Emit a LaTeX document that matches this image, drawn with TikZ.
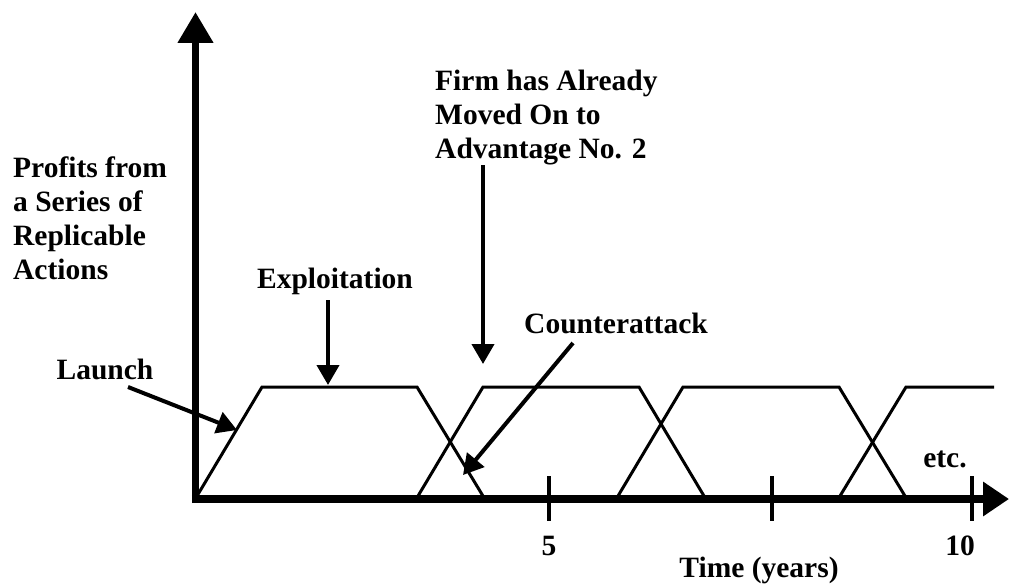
\documentclass[tikz,border=0pt]{standalone}
\usepackage{fontspec}
\setmainfont{Liberation Serif}
\usetikzlibrary{arrows.meta}
\begin{document}
\begin{tikzpicture}[x=1pt,y=-1pt,
  lbl/.style={font=\fontsize{29.5}{34}\selectfont\bfseries, inner sep=0pt},
  mlbl/.style={lbl, align=left, anchor=north west},
  axis/.style={line width=7.5pt},
  trap/.style={line width=3pt, line join=miter},
  tick/.style={line width=4pt},
  callout/.style={line width=4pt, -{Triangle[length=20pt,width=22pt]}}]
\useasboundingbox (0,0) rectangle (1009,586);
% trapezoids
\draw[trap] (197,496) -- (262,387) -- (417,387) -- (483,496);
\draw[trap] (418,496) -- (483,387) -- (639,387) -- (704,496);
\draw[trap] (618,496) -- (683,387) -- (839,387) -- (905,496);
\draw[trap] (840,496) -- (906,387) -- (994,387);
% axes
\coordinate (origin) at (195.5,503);
\coordinate (ytop) at (195.5,12);
\coordinate (xstart) at (191.75,499);
\coordinate (xend) at (1009,499);
\draw[axis, -{Triangle[length=31pt,width=34pt]}] (origin) -- (ytop);
\draw[line width=8pt, -{Triangle[length=26pt,width=33pt]}] (xstart) -- (xend);
% ticks
\foreach \x/\n in {549/t5, 772/t7, 972/t10} {
  \coordinate (\n a) at (\x,476);
  \coordinate (\n b) at (\x,521);
  \draw[tick] (\n a) -- (\n b);
}
% labels
\node[mlbl] (profits) at (13,157) {Profits from\\a Series of\\Replicable\\Actions};
\node[mlbl] (firm) at (435,70) {Firm has Already\\Moved On to\\Advantage No. 2};
\node[lbl, anchor=base] (expl) at (335,288) {Exploitation};
\node[lbl, anchor=base] (launch) at (105,379) {Launch};
\node[lbl, anchor=base] (counter) at (616,333) {Counterattack};
\node[lbl, anchor=base] (etc) at (945,467) {etc.};
\node[lbl, anchor=base] (five) at (549,555) {5};
\node[lbl, anchor=base] (ten) at (960,555) {10};
\node[lbl, anchor=base] (time) at (759,577) {Time (years)};
% callout arrows
\coordinate (explA) at (328,300);
\coordinate (explB) at (328,385);
\coordinate (firmA) at (483,165);
\coordinate (firmB) at (483,364);
\coordinate (launchA) at (128,387);
\coordinate (launchB) at (237,430);
\coordinate (counterA) at (573,343);
\coordinate (counterB) at (463,475);
\draw[callout] (explA) -- (explB);
\draw[callout] (firmA) -- (firmB);
\draw[callout] (launchA) -- (launchB);
\draw[callout] (counterA) -- (counterB);
\end{tikzpicture}
\end{document}
